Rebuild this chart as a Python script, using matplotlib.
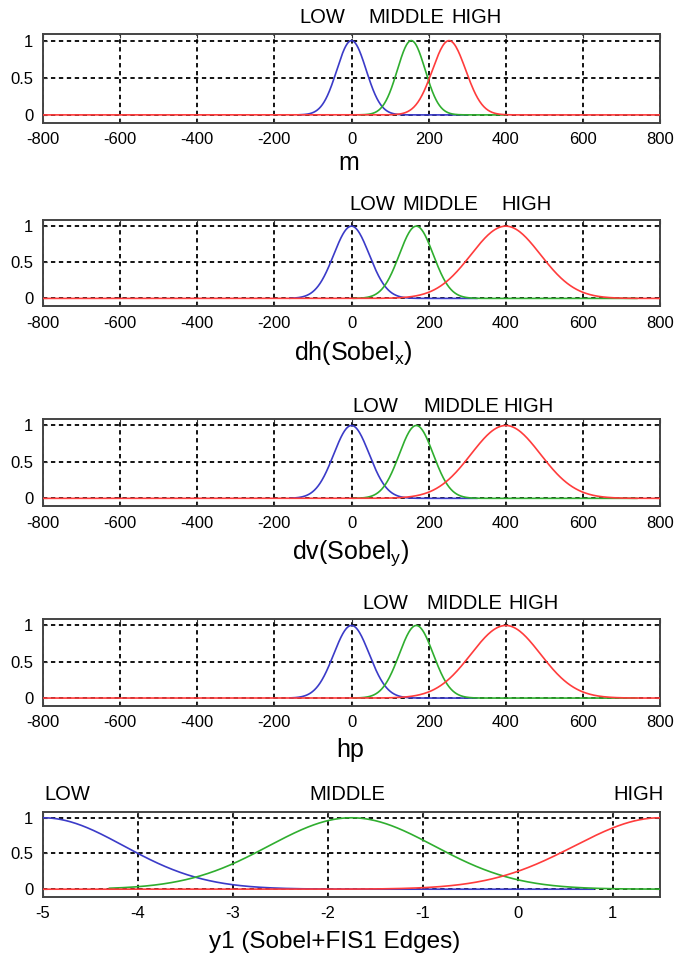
import numpy as np
import matplotlib
matplotlib.use("Agg")
import matplotlib.pyplot as plt
from matplotlib import transforms

plt.rcParams['font.family'] = ['Liberation Sans', 'DejaVu Sans']
plt.rcParams['mathtext.fontset'] = 'custom'
plt.rcParams['mathtext.rm'] = 'Liberation Sans'
plt.rcParams['axes.unicode_minus'] = False

# x-axis labels of the five panels
xlabels = ['m', r'dh(Sobel$_\mathregular{x}$)', r'dv(Sobel$_\mathregular{y}$)', 'hp',
           'y1 (Sobel+FIS1 Edges)']
xlims = [(-800, 800), (-800, 800), (-800, 800), (-800, 800), (-5, 1.5)]
xticks_big = [-800, -600, -400, -200, 0, 200, 400, 600, 800]
xticks_y1 = [-5, -4, -3, -2, -1, 0, 1]

mf_names = ['LOW', 'MIDDLE', 'HIGH']
# gaussian membership functions (center, sigma) per panel: LOW, MIDDLE, HIGH
mf_centers = [
    [0, 155, 253],
    [0, 168, 400],
    [0, 168, 400],
    [0, 168, 400],
    [-5, -1.75, 1.5],
]
mf_sigmas = [
    [38, 36, 43],
    [46, 44, 90],
    [46, 44, 90],
    [46, 44, 90],
    [0.85, 0.87, 0.9],
]
# x range over which LOW / MIDDLE are drawn (HIGH spans the whole axis)
low_span = [(-135, 300), (-160, 325), (-160, 325), (-160, 325), (-5, 0.8)]
mid_span = [(20, 400), (5, 740), (5, 740), (5, 740), (-4.3, 1.5)]

# where the MF names sit above each panel (data x)
label_x = [
    [-75, 141, 323],
    [55, 231, 453],
    [61, 284, 460],
    [87, 292, 473],
    [-4.74, -1.79, 1.27],
]

colors = ['#3b3bc8', '#2fae2f', '#ff3c3c']

# axes boxes in pixels (top, bottom) on a 674x961 canvas
W, H = 674, 961
boxes = [(34.3, 122.7), (220, 306), (419.3, 506), (619.3, 705.7), (811.7, 896.7)]
label_pad = [17, 15, 13, 16, 17]
xlabel_pos = [(349, 163), (353, 353), (351, 553), (350, 750), (335, 942)]
xlabel_size = [18, 18, 18, 18, 17.5]

fig = plt.figure(figsize=(W / 100, H / 100), dpi=100)
fig.patch.set_facecolor('white')

for i in range(5):
    top, bot = boxes[i]
    ax = fig.add_axes([43 / W, 1 - bot / H, 617 / W, (bot - top) / H])
    lo, hi = xlims[i]

    spans = [low_span[i], mid_span[i], (lo, hi)]
    for k in range(3):
        a, b = spans[k]
        x = np.linspace(a, b, 600)
        y = np.exp(-(x - mf_centers[i][k]) ** 2 / (2 * mf_sigmas[i][k] ** 2))
        ax.plot(x, y, color=colors[k], lw=1.2, zorder=3 + k)

    ax.set_xlim(lo, hi)
    ax.set_ylim(-0.105, 1.085)
    ax.set_xticks(xticks_y1 if i == 4 else xticks_big)
    ax.set_yticks([0, 0.5, 1])
    ax.set_yticklabels(['0', '0.5', '1'])
    ax.grid(True, color='black', linestyle=(0, (2.4, 2.0)), lw=1.3)
    ax.tick_params(direction='in', length=3, top=True, right=True,
                   labelsize=12, pad=7, colors='#333333', labelcolor='black')
    for s in ax.spines.values():
        s.set_color('#444444')
        s.set_linewidth(1.4)

    trans = transforms.blended_transform_factory(ax.transData, ax.transAxes)
    for k in range(3):
        ax.annotate(mf_names[k], xy=(label_x[i][k], 1), xycoords=trans,
                    xytext=(0, label_pad[i] * 0.72), textcoords='offset points',
                    ha='center', va='center', fontsize=14.5)

    px, py = xlabel_pos[i]
    fig.text(px / W, 1 - py / H, xlabels[i], ha='center', va='center',
             fontsize=xlabel_size[i])

fig.savefig('out.png', dpi=100, facecolor='white')
